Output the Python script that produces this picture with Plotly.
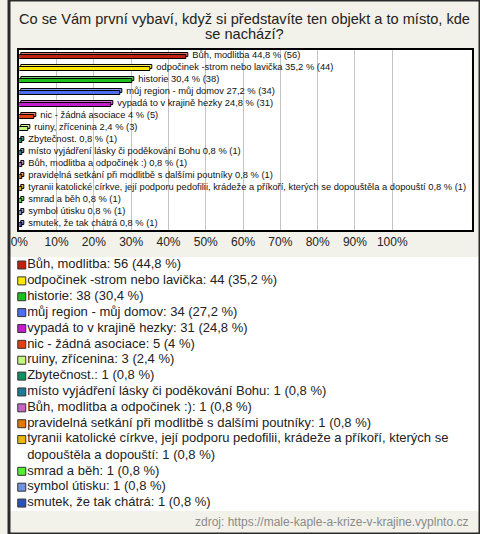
import textwrap
import plotly.graph_objects as go

W, H = 480, 534

title_lines = ["Co se Vám první vybaví, když si představíte ten objekt a to místo, kde",
               "se nachází?"]
categories = [
    "Bůh, modlitba",
    "odpočinek -strom nebo lavička",
    "historie",
    "můj region - můj domov",
    "vypadá to v krajině hezky",
    "nic - žádná asociace",
    "ruiny, zřícenina",
    "Zbytečnost.",
    "místo vyjádření lásky či poděkování Bohu",
    "Bůh, modlitba a odpočinek :)",
    "pravidelná setkání při modlitbě s dalšími poutníky",
    "tyranii katolické církve, její podporu pedofilii, krádeže a příkoří, kterých se dopouštěla a dopouští",
    "smrad a běh",
    "symbol útisku",
    "smutek, že tak chátrá",
]
counts = [56, 44, 38, 34, 31, 5, 3, 1, 1, 1, 1, 1, 1, 1, 1]
percents = [44.8, 35.2, 30.4, 27.2, 24.8, 4, 2.4, 0.8, 0.8, 0.8, 0.8, 0.8, 0.8, 0.8, 0.8]
colors = ["#c1220f", "#ffe800", "#1dbf1d", "#4b6ff0", "#c21ccc", "#e24010", "#c5f77e",
          "#109060", "#1d7b94", "#c466c4", "#e5780a", "#e8b60c", "#55ee33", "#6f94e0", "#2c54b8"]
tick_vals = [0, 10, 20, 30, 40, 50, 60, 70, 80, 90, 100]
tick_text = ["0%", "10%", "20%", "30%", "40%", "50%", "60%", "70%", "80%", "90%", "100%"]
source = "zdroj: https://male-kaple-a-krize-v-krajine.vyplnto.cz"

FONT = "Liberation Sans, Arial, sans-serif"
BG = "#f3f2ea"


def fmt(p):
    return f"{p:g}".replace(".", ",")


def lighten(hexc, f=0.35):
    r, g, b = (int(hexc[i:i + 2], 16) for i in (1, 3, 5))
    r, g, b = (int(c + (255 - c) * f) for c in (r, g, b))
    return f"rgb({r},{g},{b})"


idx = list(range(len(categories)))
bar_labels = [f"{c} {fmt(p)} % ({n})" for c, p, n in zip(categories, percents, counts)]

fig = go.Figure()
# back face (3D depth)
fig.add_trace(go.Bar(
    orientation="h", y=idx, x=percents, base=0.5,
    width=0.385, offset=-0.275,
    marker=dict(color=[lighten(c) for c in colors], line=dict(color="#000", width=1)),
    hoverinfo="skip", showlegend=False,
))
# front face
fig.add_trace(go.Bar(
    orientation="h", y=idx, x=percents, base=0,
    width=0.385, offset=-0.11,
    marker=dict(color=colors, line=dict(color="#000", width=1)),
    hoverinfo="skip", showlegend=False,
))
# value labels (invisible carrier bar, text outside)
fig.add_trace(go.Bar(
    orientation="h", y=idx, x=percents, base=1.6,
    width=0.385, offset=-0.275,
    marker=dict(color="rgba(0,0,0,0)", line=dict(width=0)),
    text=bar_labels, textposition="outside", constraintext="none", cliponaxis=False,
    textfont=dict(family=FONT, size=9.35, color="#111"),
    hoverinfo="skip", showlegend=False,
))

# custom legend below chart
leg_text, start, line_pos, text_pos = [], 0, [], []
for c, p, n in zip(categories, percents, counts):
    t = f"{c}: {n} ({fmt(p)} %)"
    lines = textwrap.wrap(t, 82)
    leg_text.append("<br>".join(lines))
    line_pos.append(start)
    text_pos.append(start + (len(lines) - 1) / 2)
    start += len(lines)
n_lines = start

fig.add_trace(go.Scatter(
    x=[13] * len(categories), y=line_pos, mode="markers",
    marker=dict(symbol="square", size=8, color=colors, line=dict(color="#333", width=1)),
    xaxis="x2", yaxis="y2", hoverinfo="skip", showlegend=False,
))
fig.add_trace(go.Scatter(
    x=[18.5] * len(categories), y=text_pos, mode="text", text=leg_text,
    textposition="middle right", textfont=dict(family=FONT, size=13, color="#222"),
    xaxis="x2", yaxis="y2", hoverinfo="skip", showlegend=False, cliponaxis=False,
))

annotations = [
    dict(text=title_lines[0], x=0.5, y=1 - 19 / H, xref="paper", yref="paper",
         showarrow=False, xanchor="center", yanchor="middle",
         font=dict(family=FONT, size=14.6, color="#222")),
    dict(text=title_lines[1], x=0.5, y=1 - 34 / H, xref="paper", yref="paper",
         showarrow=False, xanchor="center", yanchor="middle",
         font=dict(family=FONT, size=14.6, color="#222")),
    dict(text=source, x=470 / W, y=1 - 522 / H, xref="paper", yref="paper",
         showarrow=False, xanchor="right", yanchor="middle",
         font=dict(family=FONT, size=12, color="#8a8a8a")),
]

row_px = 15.87
leg_top = 265 - row_px / 2
leg_bot = leg_top + n_lines * row_px

fig.update_layout(
    width=W, height=H, autosize=False,
    margin=dict(l=0, r=0, t=0, b=0, pad=0),
    paper_bgcolor=BG, plot_bgcolor="white",
    barmode="overlay", bargap=0,
    font=dict(family=FONT, color="#222"),
    annotations=annotations,
    xaxis=dict(domain=[10.5 / W, 471.5 / W], range=[0, 121.3],
               tickvals=tick_vals, ticktext=tick_text, showgrid=True,
               gridcolor="#c4c4c4", gridwidth=1, zeroline=False,
               showline=True, mirror=True, linecolor="#000", linewidth=1.5,
               ticks="", tickfont=dict(family=FONT, size=12, color="#222"), fixedrange=True),
    yaxis=dict(domain=[1 - 230 / H, 1 - 50 / H], range=[len(categories) - 0.5, -0.5],
               showticklabels=False, showgrid=False, zeroline=False,
               showline=True, mirror=True, linecolor="#000", linewidth=1.5, ticks="",
               fixedrange=True),
    xaxis2=dict(domain=[0, 1], range=[0, W], visible=False, anchor="y2", fixedrange=True),
    yaxis2=dict(domain=[1 - leg_bot / H, 1 - leg_top / H], range=[n_lines - 0.5, -0.5],
                visible=False, anchor="x2", fixedrange=True),
    shapes=[dict(type="rect", xref="paper", yref="paper", x0=0, y0=0, x1=1, y1=1,
                 line=dict(color="#2a2a2a", width=3), fillcolor="rgba(0,0,0,0)", layer="above")],
)

fig.write_html("out.html", config={"displayModeBar": False},
               post_script="document.body.style.margin='0';document.body.style.overflow='hidden';")
